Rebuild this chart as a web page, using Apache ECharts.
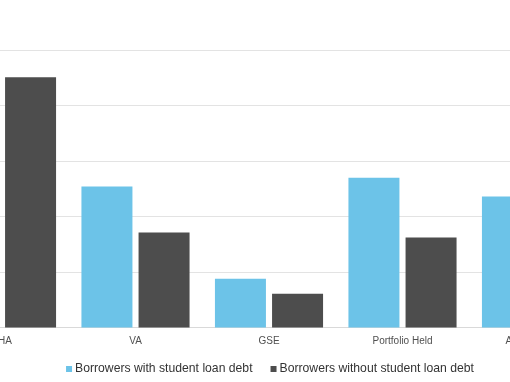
<!DOCTYPE html>
<html>
<head>
<meta charset="utf-8">
<script src="https://cdn.jsdelivr.net/npm/echarts@6/dist/echarts.min.js"></script>
<style>
html,body{margin:0;padding:0;width:510px;height:382px;overflow:hidden;background:#fff;}
#c{position:absolute;left:-80px;top:0;width:700px;height:382px;}
</style>
</head>
<body>
<div id="c"></div>
<script>
var categories = ['FHA', 'VA', 'GSE', 'Portfolio Held', 'All Mortgages'];
var seriesNames = ['Borrowers with student loan debt', 'Borrowers without student loan debt'];
var withDebt = [5.6, 2.54, 0.88, 2.70, 2.36];
var withoutDebt = [4.51, 1.71, 0.61, 1.62, 1.55];

var chart = echarts.init(document.getElementById('c'));
chart.setOption({
  animation: false,
  grid: {left: 15.25, right: 17.25, top: 50, bottom: 54.5, containLabel: false},
  legend: {
    data: seriesNames,
    bottom: 2,
    left: 'center',
    itemWidth: 6, itemHeight: 6, itemGap: 18,
    icon: 'rect',
    textStyle: {fontFamily: 'Liberation Sans, Arial, sans-serif', fontSize: 12.2, color: '#333333', padding: [0,0,0,-2]}
  },
  xAxis: {
    type: 'category',
    data: categories,
    axisLine: {lineStyle: {color: '#d9d9d9'}},
    axisTick: {show: false},
    axisLabel: {fontFamily: 'Liberation Sans, Arial, sans-serif', fontSize: 10, color: '#505050', margin: 9, interval: 0}
  },
  yAxis: {
    type: 'value',
    min: 0, max: 5, interval: 1,
    axisLabel: {show: false},
    axisLine: {show: false},
    axisTick: {show: false},
    splitLine: {lineStyle: {color: '#e3e3e3'}}
  },
  series: [
    {name: seriesNames[0], type: 'bar', data: withDebt, barWidth: 51, barGap: '12%', itemStyle: {color: '#6cc3e8'}},
    {name: seriesNames[1], type: 'bar', data: withoutDebt, barWidth: 51, itemStyle: {color: '#4d4d4d'}}
  ]
});
</script>
</body>
</html>
